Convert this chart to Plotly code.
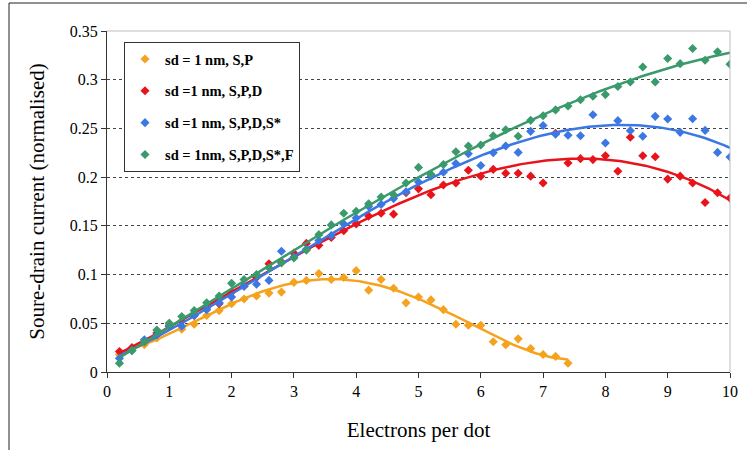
import numpy as np
import plotly.graph_objects as go

# ---------------- data ----------------
x_sp = [0.2, 0.4, 0.6, 0.8, 1.0, 1.2, 1.4, 1.6, 1.8, 2.0, 2.2, 2.4, 2.6, 2.8, 3.0,
        3.2, 3.4, 3.6, 3.8, 4.0, 4.2, 4.4, 4.6, 4.8, 5.0, 5.2, 5.4, 5.6, 5.8, 6.0,
        6.2, 6.4, 6.6, 6.8, 7.0, 7.2, 7.4]
y_sp = [0.018, 0.022, 0.028, 0.035, 0.050, 0.044, 0.049, 0.058, 0.063, 0.070,
        0.075, 0.078, 0.081, 0.082, 0.092, 0.094, 0.101, 0.095, 0.097, 0.104,
        0.084, 0.095, 0.086, 0.071, 0.077, 0.074, 0.064, 0.049, 0.048, 0.048,
        0.031, 0.028, 0.034, 0.024, 0.018, 0.016, 0.009]

x_full = [0.2, 0.4, 0.6, 0.8, 1.0, 1.2, 1.4, 1.6, 1.8, 2.0, 2.2, 2.4, 2.6, 2.8, 3.0,
          3.2, 3.4, 3.6, 3.8, 4.0, 4.2, 4.4, 4.6, 4.8, 5.0, 5.2, 5.4, 5.6, 5.8, 6.0,
          6.2, 6.4, 6.6, 6.8, 7.0, 7.2, 7.4, 7.6, 7.8, 8.0, 8.2, 8.4, 8.6, 8.8, 9.0,
          9.2, 9.4, 9.6, 9.8, 10.0]
y_spd = [0.021, 0.025, 0.031, 0.040, 0.047, 0.052, 0.058, 0.066, 0.070, 0.082,
         0.088, 0.097, 0.111, 0.113, 0.122, 0.132, 0.130, 0.138, 0.145, 0.152,
         0.160, 0.163, 0.162, 0.184, 0.188, 0.182, 0.192, 0.194, 0.207, 0.201,
         0.208, 0.204, 0.204, 0.201, 0.194, 0.245, 0.2145, 0.219, 0.218, 0.222,
         0.206, 0.241, 0.222, 0.221, 0.198, 0.201, 0.194, 0.174, 0.184, 0.1785]
y_spds = [0.014, 0.022, 0.033, 0.038, 0.048, 0.047, 0.058, 0.064, 0.071, 0.077,
          0.088, 0.090, 0.094, 0.124, 0.118, 0.126, 0.135, 0.140, 0.152, 0.158,
          0.170, 0.172, 0.178, 0.185, 0.195, 0.201, 0.205, 0.214, 0.224, 0.212,
          0.225, 0.232, 0.2254, 0.247, 0.253, 0.244, 0.243, 0.2425, 0.264, 0.235,
          0.258, 0.2477, 0.242, 0.2624, 0.2597, 0.246, 0.260, 0.248, 0.2254, 0.2207]
y_spdsf = [0.009, 0.022, 0.031, 0.043, 0.050, 0.057, 0.063, 0.071, 0.078, 0.091,
           0.095, 0.100, 0.107, 0.112, 0.117, 0.125, 0.141, 0.151, 0.163, 0.165,
           0.1727, 0.1795, 0.182, 0.194, 0.210, 0.203, 0.213, 0.226, 0.232, 0.233,
           0.2425, 0.2487, 0.242, 0.2583, 0.263, 0.269, 0.273, 0.2795, 0.283, 0.2847,
           0.293, 0.2977, 0.313, 0.2977, 0.3217, 0.3165, 0.332, 0.320, 0.3286, 0.316]

names = ["sd = 1 nm, S,P", "sd =1 nm, S,P,D", "sd =1 nm, S,P,D,S*", "sd = 1nm, S,P,D,S*,F"]
colors = ["#F5A21E", "#E8141C", "#3C78E4", "#3A9A6C"]
fit_orders = [4, 3, 3, 3]
series = [(x_sp, y_sp), (x_full, y_spd), (x_full, y_spds), (x_full, y_spdsf)]

x_ticks = list(range(0, 11))
y_ticks = [0, 0.05, 0.1, 0.15, 0.2, 0.25, 0.3, 0.35]
y_ticktext = ["0", "0.05", "0.1", "0.15", "0.2", "0.25", "0.3", "0.35"]

FONT = "Liberation Serif"

fig = go.Figure()
for i, ((xs, ys), name, col, order) in enumerate(zip(series, names, colors, fit_orders)):
    fig.add_trace(go.Scatter(
        x=xs, y=ys, mode="markers", name=name, legendgroup=f"g{i}",
        marker=dict(symbol="diamond", size=7, color=col),
    ))
    # polynomial trendline fitted to the points
    xa = np.array(xs); ya = np.array(ys)
    coef = np.polyfit(xa, ya, order)
    xf = np.linspace(xa.min(), xa.max(), 200)
    fig.add_trace(go.Scatter(
        x=xf, y=np.polyval(coef, xf), mode="lines", showlegend=False,
        legendgroup=f"g{i}", hoverinfo="skip",
        line=dict(color=col, width=2.5),
    ))

L, R, T, B = 107, 17, 31, 78
W, H = 747, 450
pw, ph = W - L - R, H - T - B

def px_x(p):
    return (p - L) / pw

def px_y(p):
    return (H - B - p) / ph

shapes = [
    dict(type="line", xref="paper", yref="paper", x0=0, x1=1, y0=1, y1=1,
         line=dict(color="#BDBDBD", width=1)),
    dict(type="line", xref="paper", yref="paper", x0=1, x1=1, y0=0, y1=1,
         line=dict(color="#BDBDBD", width=1)),
    dict(type="line", xref="paper", yref="paper", x0=px_x(9), x1=px_x(9),
         y0=px_y(460), y1=px_y(3), line=dict(color="#222222", width=1)),
    dict(type="line", xref="paper", yref="paper", x0=px_x(9), x1=px_x(760),
         y0=px_y(3), y1=px_y(3), line=dict(color="#222222", width=1)),
]

fig.update_layout(
    width=W, height=H,
    margin=dict(l=L, r=R, t=T, b=B, pad=0, autoexpand=False),
    paper_bgcolor="white", plot_bgcolor="white",
    font=dict(family=FONT, color="black", size=16),
    showlegend=True,
    legend=dict(
        x=px_x(124), y=px_y(42), xanchor="left", yanchor="top",
        bgcolor="white", bordercolor="#333333", borderwidth=1,
        font=dict(family=FONT, size=14.5, color="black", weight="bold"),
        tracegroupgap=10,
    ),
    xaxis=dict(
        range=[0, 10], tickvals=x_ticks, ticktext=[str(v) for v in x_ticks],
        showgrid=False, zeroline=False, automargin=False,
        showline=True, linecolor="#333333", linewidth=1,
        ticks="outside", ticklen=5, tickcolor="#333333",
        tickfont=dict(family=FONT, size=16),
        title=dict(text="Electrons per dot", font=dict(family=FONT, size=21), standoff=23),
    ),
    yaxis=dict(
        range=[0, 0.35], tickvals=y_ticks, ticktext=y_ticktext,
        showgrid=True, gridcolor="#444444", griddash="dot", gridwidth=1,
        zeroline=False, automargin=False,
        showline=True, linecolor="#333333", linewidth=1,
        ticks="outside", ticklen=5, tickcolor="#333333",
        tickfont=dict(family=FONT, size=16),
        title=dict(text="Soure-drain current (normalised)", font=dict(family=FONT, size=21), standoff=19),
    ),
    shapes=shapes,
)

fig.write_html("out.html", config={"displayModeBar": False},
               post_script="document.body.style.margin='0px';")
